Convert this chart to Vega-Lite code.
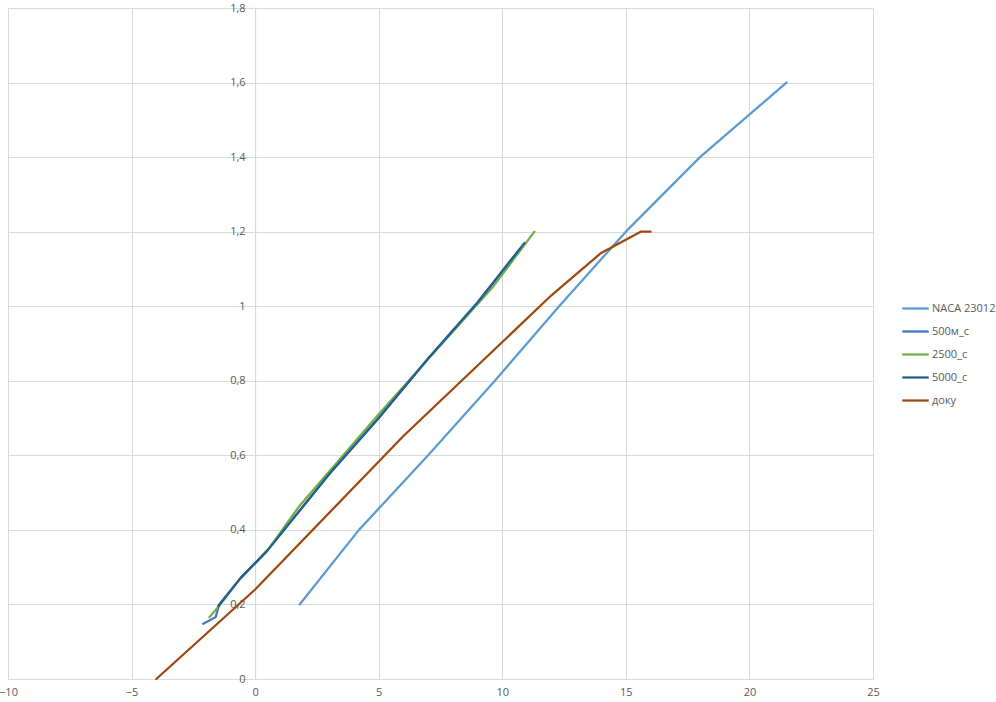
{
  "$schema": "https://vega.github.io/schema/vega-lite/v6.json",
  "autosize": {"type": "none"},
  "padding": {"left": 8, "top": 8, "right": 123, "bottom": 23},
  "width": 865,
  "height": 671,
  "background": "white",
  "config": {
    "view": {"stroke": null},
    "font": "Open Sans",
    "axis": {"labelFont": "Open Sans", "labelFontSize": 11, "labelColor": "#595959", "gridColor": "#d9d9d9", "domainColor": "#d9d9d9", "ticks": false, "title": null},
    "legend": {"labelFont": "Open Sans", "labelFontSize": 11, "labelColor": "#595959"}
  },
  "data": {"values": [
    {"s": "NACA 23012", "x": 1.8, "y": 0.2},
    {"s": "NACA 23012", "x": 4.2, "y": 0.4},
    {"s": "NACA 23012", "x": 7.0, "y": 0.6},
    {"s": "NACA 23012", "x": 9.7, "y": 0.8},
    {"s": "NACA 23012", "x": 12.3, "y": 1.0},
    {"s": "NACA 23012", "x": 15.0, "y": 1.2},
    {"s": "NACA 23012", "x": 18.0, "y": 1.4},
    {"s": "NACA 23012", "x": 21.5, "y": 1.6},
    {"s": "500м_с", "x": -2.1, "y": 0.148},
    {"s": "500м_с", "x": -1.6, "y": 0.166},
    {"s": "500м_с", "x": -1.45, "y": 0.2},
    {"s": "500м_с", "x": -0.6, "y": 0.27},
    {"s": "500м_с", "x": 0.5, "y": 0.345},
    {"s": "500м_с", "x": 3.0, "y": 0.55},
    {"s": "500м_с", "x": 5.0, "y": 0.7},
    {"s": "500м_с", "x": 7.0, "y": 0.86},
    {"s": "500м_с", "x": 9.0, "y": 1.01},
    {"s": "500м_с", "x": 10.7, "y": 1.153},
    {"s": "2500_с", "x": -1.85, "y": 0.166},
    {"s": "2500_с", "x": -1.4, "y": 0.2},
    {"s": "2500_с", "x": -0.6, "y": 0.27},
    {"s": "2500_с", "x": 0.5, "y": 0.345},
    {"s": "2500_с", "x": 1.8, "y": 0.465},
    {"s": "2500_с", "x": 5.0, "y": 0.71},
    {"s": "2500_с", "x": 9.6, "y": 1.05},
    {"s": "2500_с", "x": 11.3, "y": 1.2},
    {"s": "5000_с", "x": -1.5, "y": 0.195},
    {"s": "5000_с", "x": -0.6, "y": 0.27},
    {"s": "5000_с", "x": 0.5, "y": 0.345},
    {"s": "5000_с", "x": 3.0, "y": 0.55},
    {"s": "5000_с", "x": 5.0, "y": 0.7},
    {"s": "5000_с", "x": 7.0, "y": 0.86},
    {"s": "5000_с", "x": 9.0, "y": 1.01},
    {"s": "5000_с", "x": 10.9, "y": 1.17},
    {"s": "доку", "x": -4.0, "y": 0.0},
    {"s": "доку", "x": 0.0, "y": 0.24},
    {"s": "доку", "x": 6.0, "y": 0.652},
    {"s": "доку", "x": 12.0, "y": 1.03},
    {"s": "доку", "x": 14.0, "y": 1.143},
    {"s": "доку", "x": 15.6, "y": 1.2},
    {"s": "доку", "x": 16.0, "y": 1.2}
  ]},
  "mark": {"type": "line", "strokeWidth": 2.25, "strokeCap": "round", "strokeJoin": "round"},
  "encoding": {
    "x": {"field": "x", "type": "quantitative",
      "scale": {"domain": [-10, 25], "nice": false, "zero": false},
      "axis": {"values": [-10, -5, 0, 5, 10, 15, 20, 25], "labelPadding": 7, "grid": true, "labelFlush": false}},
    "y": {"field": "y", "type": "quantitative",
      "scale": {"domain": [0, 1.8], "nice": false},
      "axis": {"values": [0, 0.2, 0.4, 0.6, 0.8, 1, 1.2, 1.4, 1.6, 1.8], "offset": -247.14, "labelPadding": 10, "grid": true,
        "labelExpr": "replace(format(datum.value, '~g'), '.', ',')", "labelFlush": false}},
    "color": {"field": "s", "type": "nominal",
      "scale": {"domain": ["NACA 23012", "500м_с", "2500_с", "5000_с", "доку"], "range": ["#5B9BD5", "#4472C4", "#70AD47", "#255E91", "#9E480E"]},
      "legend": {"title": null, "orient": "none", "legendX": 893, "legendY": 286, "symbolType": "stroke", "symbolSize": 700, "symbolStrokeWidth": 2.25, "rowPadding": 3, "labelOffset": 2, "symbolOffset": 0}}
  }
}
